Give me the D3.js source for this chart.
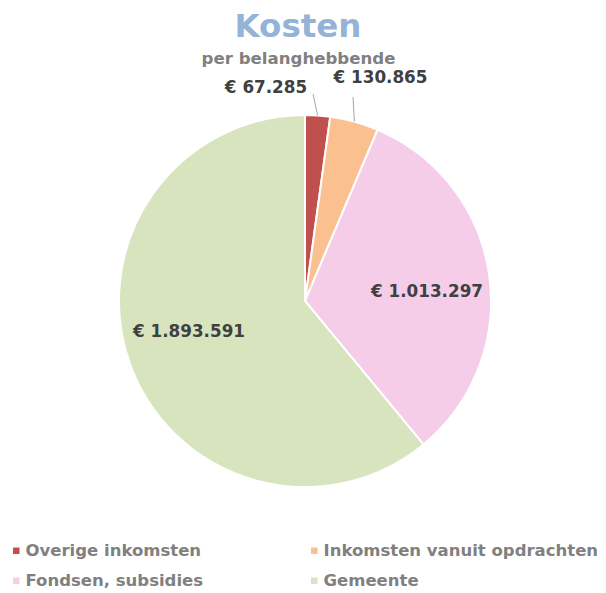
<!DOCTYPE html>
<html>
<head>
<meta charset="utf-8">
<script src="https://cdn.jsdelivr.net/npm/d3@7"></script>
<style>
  body { margin: 0; background: #fff; }
  svg { font-family: "DejaVu Sans", Verdana, sans-serif; font-weight: bold; }
</style>
</head>
<body>
<svg width="606" height="593"></svg>
<script>
// data
const categories = ['Overige inkomsten', 'Inkomsten vanuit opdrachten', 'Fondsen, subsidies', 'Gemeente'];
const values = [67285, 130865, 1013297, 1893591];
const labels = ['€ 67.285', '€ 130.865', '€ 1.013.297', '€ 1.893.591'];
const colors = ['#c0504d', '#fac090', '#f5cde9', '#d7e4bd'];

const svg = d3.select('svg');
const cx = 305, cy = 301, radius = 186;

svg.append('text')
    .attr('x', 298).attr('y', 37)
    .attr('text-anchor', 'middle')
    .attr('font-size', 32.5)
    .attr('fill', '#95b3d7')
    .text('Kosten');
svg.append('text')
    .attr('x', 298.5).attr('y', 64)
    .attr('text-anchor', 'middle')
    .attr('font-size', 16.6)
    .attr('fill', '#808080')
    .text('per belanghebbende');

const pie = d3.pie().sort(null).value(d => d.value);
const arcs = pie(categories.map((c, i) => ({ name: c, value: values[i], label: labels[i], color: colors[i] })));
const arc = d3.arc().innerRadius(0).outerRadius(radius);

const chart = svg.append('g').attr('transform', `translate(${cx}, ${cy})`);
chart.selectAll('path')
    .data(arcs)
    .enter()
    .append('path')
    .attr('d', arc)
    .attr('fill', d => d.data.color)
    .attr('stroke', '#fff')
    .attr('stroke-width', 2);

// label spots (relative to centre), small slices get a leader line
const labelPos = [[-39, -208], [75.5, -218], [122, -4], [-116, 36]];
const leaderEnd = [[8, -207], [48, -204]];
arcs.forEach((d, i) => {
    if (i < 2) {
        const mid = (d.startAngle + d.endAngle) / 2;
        const ex = Math.sin(mid) * radius, ey = -Math.cos(mid) * radius;
        chart.append('line')
            .attr('x1', ex).attr('y1', ey)
            .attr('x2', leaderEnd[i][0]).attr('y2', leaderEnd[i][1])
            .attr('stroke', '#a6a6a6').attr('stroke-width', 1);
    }
    chart.append('text')
        .attr('x', labelPos[i][0]).attr('y', labelPos[i][1])
        .attr('text-anchor', 'middle')
        .attr('font-size', 16.8)
        .attr('fill', '#404040')
        .text(d.data.label);
});

// legend
const legendPos = [[13, 556], [311, 556], [13, 586], [311, 586]];
const legend = svg.selectAll('.legend')
    .data(categories)
    .enter()
    .append('g')
    .attr('class', 'legend')
    .attr('transform', (d, i) => `translate(${legendPos[i][0]}, ${legendPos[i][1]})`);
legend.append('rect')
    .attr('x', 0).attr('y', -8.5)
    .attr('width', 6.5).attr('height', 6.5)
    .attr('fill', (d, i) => colors[i]);
legend.append('text')
    .attr('x', 12.5).attr('y', 0)
    .attr('font-size', 16.5)
    .attr('fill', '#808080')
    .text(d => d);
</script>
</body>
</html>
